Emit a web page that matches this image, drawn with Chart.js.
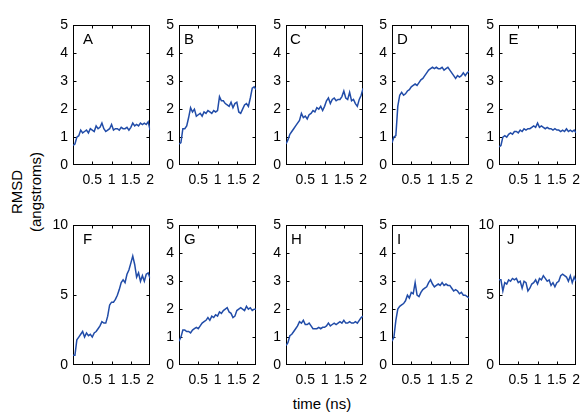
<!DOCTYPE html>
<html>
<head>
<meta charset="utf-8">
<script src="https://cdn.jsdelivr.net/npm/chart.js@4.4.0/dist/chart.umd.min.js"></script>
<style>
    body { margin: 0; background: #fff; width: 583px; height: 412px; position: relative; overflow: hidden;
           font-family: "Liberation Sans", Arial, sans-serif; color: #000; }
    canvas.panel { position: absolute; }
    .ytitle { position: absolute; left: -34px; top: 173px; width: 120px; height: 38px; line-height: 19px;
              font-size: 15px; text-align: center; transform: rotate(-90deg); }
    .xtitle { position: absolute; left: 262px; top: 395px; width: 120px; line-height: 18px;
              font-size: 15px; text-align: center; }
</style>
</head>
<body>
<div class="ytitle">RMSD<br>(angstroms)</div>
<div class="xtitle">time (ns)</div>
<script>
// Data (time in ns, RMSD in angstroms)
const timeNs = [0, 0.05, 0.1, 0.15, 0.2, 0.25, 0.3, 0.35, 0.4, 0.45, 0.5, 0.55, 0.6, 0.65, 0.7, 0.75, 0.8, 0.85, 0.9, 0.95,
    1, 1.05, 1.1, 1.15, 1.2, 1.25, 1.3, 1.35, 1.4, 1.45, 1.5, 1.55, 1.6, 1.65, 1.7, 1.75, 1.8, 1.85, 1.9, 1.95, 2];

const rmsdA = [0.7, 0.75, 1.0, 1.05, 1.25, 1.15, 1.2, 1.25, 1.15, 1.3, 1.25, 1.2, 1.4, 1.3, 1.35, 1.5, 1.3, 1.2, 1.25, 1.3,
    1.45, 1.25, 1.3, 1.3, 1.25, 1.35, 1.3, 1.3, 1.35, 1.25, 1.35, 1.5, 1.4, 1.45, 1.4, 1.5, 1.45, 1.5, 1.45, 1.55, 1.25];
const rmsdB = [0.75, 0.8, 1.3, 1.3, 1.4, 1.7, 2.05, 1.9, 2.0, 1.75, 1.8, 1.85, 1.75, 1.9, 1.85, 1.95, 1.9, 1.85, 1.95, 1.9,
    1.95, 2.45, 2.3, 2.3, 2.2, 2.15, 2.1, 2.25, 2.05, 2.2, 2.25, 1.9, 1.85, 2.0, 2.15, 2.2, 2.1, 2.4, 2.75, 2.8, 2.7];
const rmsdC = [0.75, 0.9, 1.1, 1.2, 1.3, 1.4, 1.5, 1.6, 1.85, 1.7, 1.75, 1.65, 1.8, 1.85, 1.95, 1.9, 2.05, 2.0, 2.1, 1.95,
    2.1, 2.3, 2.4, 2.2, 2.35, 2.4, 2.3, 2.35, 2.35, 2.45, 2.65, 2.4, 2.35, 2.6, 2.3, 2.35, 2.2, 2.1, 2.35, 2.5, 2.75];
const rmsdD = [0.8, 1.0, 1.05, 2.1, 2.5, 2.6, 2.5, 2.55, 2.65, 2.7, 2.8, 2.85, 2.9, 2.85, 2.95, 3.05, 3.1, 3.2, 3.3, 3.4,
    3.45, 3.5, 3.45, 3.5, 3.45, 3.45, 3.5, 3.4, 3.45, 3.5, 3.4, 3.3, 3.2, 3.1, 3.2, 3.15, 3.2, 3.3, 3.2, 3.3, 3.35];
const rmsdE = [0.65, 0.7, 1.0, 1.05, 1.0, 1.1, 1.15, 1.1, 1.2, 1.2, 1.15, 1.25, 1.2, 1.3, 1.25, 1.3, 1.3, 1.35, 1.4, 1.35,
    1.5, 1.35, 1.4, 1.35, 1.3, 1.35, 1.3, 1.3, 1.25, 1.3, 1.25, 1.25, 1.2, 1.25, 1.2, 1.3, 1.2, 1.25, 1.2, 1.25, 1.15];
const rmsdF = [0.7, 0.7, 1.8, 2.0, 2.2, 2.4, 2.0, 2.3, 2.1, 2.2, 2.0, 2.3, 2.4, 2.6, 2.8, 3.1, 3.0, 3.0, 3.5, 4.3,
    4.5, 4.5, 4.7, 5.0, 5.4, 5.9, 6.1, 5.9, 6.5, 6.8, 7.3, 7.8, 7.2, 6.3, 6.6, 6.0, 6.4, 6.0, 6.5, 6.6, 6.2];
const rmsdG = [0.85, 1.0, 1.25, 1.25, 1.2, 1.2, 1.15, 1.25, 1.3, 1.35, 1.3, 1.4, 1.5, 1.55, 1.6, 1.7, 1.6, 1.75, 1.7, 1.8,
    1.75, 1.9, 1.85, 1.95, 2.0, 2.05, 1.9, 1.85, 1.7, 1.75, 1.95, 2.0, 2.05, 2.0, 1.95, 2.1, 2.0, 2.05, 1.95, 2.0, 2.0];
const rmsdH = [0.7, 0.8, 1.05, 1.1, 1.2, 1.3, 1.4, 1.55, 1.5, 1.6, 1.45, 1.45, 1.5, 1.4, 1.3, 1.3, 1.3, 1.35, 1.3, 1.35,
    1.35, 1.4, 1.5, 1.4, 1.45, 1.5, 1.45, 1.5, 1.55, 1.5, 1.6, 1.5, 1.5, 1.55, 1.5, 1.5, 1.55, 1.5, 1.6, 1.7, 1.75];
const rmsdI = [0.85, 1.0, 1.6, 2.0, 2.1, 2.15, 2.2, 2.3, 2.5, 2.4, 2.6, 2.55, 2.95, 2.5, 2.45, 2.6, 2.7, 2.75, 2.8, 2.95,
    3.05, 2.9, 2.8, 2.85, 2.9, 2.85, 2.95, 2.85, 2.9, 2.85, 2.85, 2.75, 2.65, 2.7, 2.65, 2.55, 2.6, 2.5, 2.5, 2.45, 2.4];
const rmsdJ = [6.1, 6.1, 5.3, 5.9, 5.8, 6.1, 6.0, 6.2, 6.1, 6.2, 5.9, 6.0, 5.5, 6.0, 5.9, 5.3, 5.5, 5.8, 5.9, 6.1,
    5.8, 6.2, 6.1, 6.4, 6.2, 6.0, 6.1, 5.7, 5.9, 5.6, 5.9, 6.0, 6.4, 6.5, 6.4, 6.3, 6.0, 6.4, 5.9, 6.3, 6.0];

const panelLetters = ['A', 'B', 'C', 'D', 'E', 'F', 'G', 'H', 'I', 'J'];
const panelSeries = [rmsdA, rmsdB, rmsdC, rmsdD, rmsdE, rmsdF, rmsdG, rmsdH, rmsdI, rmsdJ];
const panelYMax = [5, 5, 5, 5, 5, 10, 5, 5, 5, 10];

// Tick labels
const xTicks = [0, 0.5, 1, 1.5, 2];
const yTicksSmall = [0, 1, 2, 3, 4, 5];
const yTicksBig = [0, 5, 10];

// --- Layout (pixels) ---
const PLOT_W = 80, PLOT_H = 143;
const Y_AXIS_W = 30, X_AXIS_H = 30, PAD_TOP = 10, PAD_RIGHT = 8;
const COL_LEFT0 = 73, COL_STEP = 106.4;
const ROW_TOPS = [22, 222.3];
const letterDx = [10, 5, 4, 5, 9.5, 10, 5, 5, 5, 8];
const LINE_COLOR = 'rgb(33, 76, 168)';
const FONT = '"Liberation Sans", Arial, sans-serif';

// Frame with inward ticks on all four sides + panel letter
const framePlugin = {
    id: 'frame',
    beforeDatasetsDraw(chart, args, opts) {
        const { ctx, chartArea: a, scales: { x, y } } = chart;
        const L = Math.round(a.left) + 0.5, R = Math.round(a.right) - 0.5;
        const T = Math.round(a.top) + 0.5, B = Math.round(a.bottom) - 0.5;
        ctx.save();
        ctx.strokeStyle = '#000';
        ctx.lineWidth = 1;
        ctx.strokeRect(L, T, R - L, B - T);
        ctx.beginPath();
        x.ticks.forEach(t => {
            const px = Math.round(x.getPixelForValue(t.value)) + 0.5;
            if (px <= L + 2 || px >= R - 2) return;
            ctx.moveTo(px, B); ctx.lineTo(px, B - 3);
            ctx.moveTo(px, T); ctx.lineTo(px, T + 3);
        });
        y.ticks.forEach(t => {
            const py = Math.round(y.getPixelForValue(t.value)) + 0.5;
            if (py <= T + 2 || py >= B - 2) return;
            ctx.moveTo(L, py); ctx.lineTo(L + 3, py);
            ctx.moveTo(R, py); ctx.lineTo(R - 3, py);
        });
        ctx.stroke();
        ctx.fillStyle = '#000';
        ctx.font = '15px ' + FONT;
        ctx.textBaseline = 'middle';
        ctx.fillText(opts.letter, a.left + opts.dx, a.top + 14);
        ctx.restore();
    }
};

function makePanel(i) {
    const col = i % 5, row = Math.floor(i / 5);
    const plotLeft = COL_LEFT0 + col * COL_STEP;
    const plotTop = ROW_TOPS[row];
    const yMax = panelYMax[i];
    const yTicks = yMax === 10 ? yTicksBig : yTicksSmall;

    const canvas = document.createElement('canvas');
    canvas.className = 'panel';
    canvas.width = Y_AXIS_W + PLOT_W + PAD_RIGHT;
    canvas.height = PAD_TOP + PLOT_H + X_AXIS_H;
    canvas.style.left = (plotLeft - Y_AXIS_W) + 'px';
    canvas.style.top = (plotTop - PAD_TOP) + 'px';
    document.body.appendChild(canvas);

    new Chart(canvas, {
        type: 'line',
        data: {
            datasets: [{
                data: timeNs.map((t, k) => ({ x: t, y: panelSeries[i][k] })),
                borderColor: LINE_COLOR,
                borderWidth: 1.5,
                pointRadius: 0,
                tension: 0,
                fill: false
            }]
        },
        options: {
            responsive: false,
            animation: false,
            devicePixelRatio: 1,
            layout: { padding: { top: PAD_TOP, right: PAD_RIGHT, left: 0, bottom: 0 } },
            plugins: {
                legend: { display: false },
                tooltip: { enabled: false },
                frame: { letter: panelLetters[i], dx: letterDx[i] }
            },
            scales: {
                x: {
                    type: 'linear', min: 0, max: 2,
                    afterBuildTicks: s => { s.ticks = xTicks.map(v => ({ value: v })); },
                    afterFit: s => { s.height = X_AXIS_H; },
                    grid: { display: false, drawTicks: false },
                    border: { display: false },
                    ticks: {
                        autoSkip: false, maxRotation: 0, padding: 7,
                        color: '#000', font: { family: FONT, size: 14 },
                        callback: v => (v === 0 ? '' : String(v))
                    }
                },
                y: {
                    type: 'linear', min: 0, max: yMax,
                    afterBuildTicks: s => { s.ticks = yTicks.map(v => ({ value: v })); },
                    afterFit: s => { s.width = Y_AXIS_W; },
                    grid: { display: false, drawTicks: false },
                    border: { display: false },
                    ticks: {
                        autoSkip: false, padding: 5,
                        color: '#000', font: { family: FONT, size: 14 },
                        callback: v => String(v)
                    }
                }
            }
        },
        plugins: [framePlugin]
    });
}

for (let i = 0; i < panelLetters.length; i++) makePanel(i);
</script>
</body>
</html>
